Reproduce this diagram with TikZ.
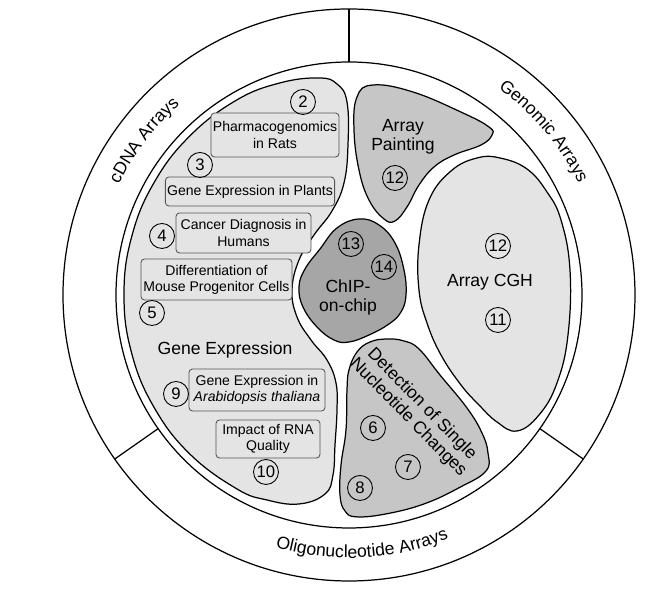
\documentclass[tikz,border=0pt]{standalone}
\usepackage{fontspec}
\setmainfont{Liberation Sans}
\usetikzlibrary{decorations.text}
\definecolor{glight}{HTML}{E4E4E4}
\definecolor{gmid}{HTML}{C6C6C6}
\definecolor{gdark}{HTML}{A6A6A6}
\definecolor{gline}{HTML}{555555}
\newcommand{\ringfont}{\fontsize{10}{12}\selectfont}
\tikzset{
  every picture/.style={line width=0.7pt, x=0.02cm, y=0.02cm},
  blob/.style={draw, fill=#1, line width=0.7pt},
  blob/.default=glight,
  tag/.style={draw=gline, fill=glight, rounded corners=2pt, align=center, inner sep=1pt, font=\fontsize{8}{9.2}\selectfont, line width=0.5pt},
  num/.style={draw, circle, minimum size=0.5cm, inner sep=0pt, font=\fontsize{9.5}{10}\selectfont, line width=0.5pt},
  title/.style={font=\fontsize{10}{10.8}\selectfont, align=center},
  ring/.style={decorate, decoration={text along path, text align=center, text={|\ringfont|#1}}},
}
\newcommand{\numc}[3]{% name, position, number
  \node[num] (#1) at (#2) {#3};}

\begin{document}
\begin{tikzpicture}
  \useasboundingbox (-349,-295) rectangle (305,295);
  % outer ring with the three array types
  \draw (0,0) circle[radius=286];
  \draw (0,0) circle[radius=233];
  \foreach \a in {90,215,325}
    \draw (\a:233) -- (\a:286);
  \path[ring=cDNA Arrays] (175:255) arc[start angle=175, end angle=111, radius=255];
  \path[ring=Genomic Arrays] (72:255) arc[start angle=72, end angle=8, radius=255];
  \path[ring=Oligonucleotide Arrays] (-127:263) arc[start angle=-127, end angle=-47, radius=263];
  % gene expression
  \draw[blob] plot[smooth cycle, tension=0.7] coordinates {
    (240:224) (225:225) (210:225) (195:225) (180:225) (165:225) (150:225) (135:225) (120:225) (108:223)
    (-30,217) (-12,211) (-2,193) (-1,150) (-5,112) (-17,84) (-35,60) (-50,35) (-57,5) (-52,-22)
    (-38,-45) (-22,-65) (-13,-88) (-12,-115) (-14,-150) (-16,-180) (-24,-199) (-50,-209) (-82,-205)};
  % array painting
  \draw[blob=gmid] plot[smooth cycle, tension=0.7] coordinates {
    (8,198) (24,210) (64,203) (114,182) (140,168) (143,160) (132,150) (105,140) (85,128)
    (70,110) (58,88) (46,74) (35,76) (20,95) (10,125) (5,165)};
  % chip-on-chip
  \draw[blob=gdark] plot[smooth cycle, tension=0.7] coordinates {
    (10,76) (30,70) (46,52) (55,25) (57,0) (52,-17) (40,-29) (20,-40) (0,-47) (-15,-45)
    (-32,-32) (-46,-12) (-50,8) (-44,26) (-29,46) (-12,67)};
  % array cgh
  \draw[blob] plot[smooth cycle, tension=0.7] coordinates {
    (151,137) (178,126) (198,103) (212,75) (221,25) (219,-40) (208,-88) (190,-120) (168,-136)
    (148,-127) (130,-110) (112,-90) (92,-60) (78,-28) (70,5) (70,50) (80,95) (102,124) (128,137)};
  % single nucleotide changes
  \draw[blob=gmid] plot[smooth cycle, tension=0.7] coordinates {
    (21,-47) (38,-44) (55,-46) (70,-54) (91,-80) (118,-113) (133,-138) (139,-158) (137,-176)
    (-60:222) (-70:222) (-80:222) (-88:222) (-4,-216) (-9,-200) (-8,-170) (-3,-135) (-2,-95)
    (0,-75) (8,-57)};
  % boxes
  \node[tag, minimum width=2.56cm, minimum height=0.88cm] (pharma) at (-74,160) {Pharmacogenomics\\in Rats};
  \node[tag, minimum width=3.36cm, minimum height=0.58cm] (plants) at (-99,103.5) {Gene Expression in Plants};
  \node[tag, minimum width=2.70cm, minimum height=0.80cm] (cancer) at (-105.5,62) {Cancer Diagnosis in\\Humans};
  \node[tag, minimum width=3.02cm, minimum height=0.82cm] (mouse) at (-132.5,15.5) {Differentiation of\\Mouse Progenitor Cells};
  \node[tag, minimum width=2.72cm, minimum height=0.84cm] (arabid) at (-92,-95) {Gene Expression in\\\textit{Arabidopsis thaliana}};
  \node[tag, minimum width=2.08cm, minimum height=0.76cm] (rna) at (-81,-144) {Impact of RNA\\Quality};
  % numbers
  \numc{n2}{-46,193}{2}
  \numc{n3}{-149,130}{3}
  \numc{n4}{-187,59}{4}
  \numc{n5}{-197,-18}{5}
  \numc{n9}{-173,-99}{9}
  \numc{n10}{-83,-177}{10}
  \numc{n12a}{46,117}{12}
  \numc{n13}{2,51}{13}
  \numc{n14}{35,28}{14}
  \numc{n12b}{149,49}{12}
  \numc{n11}{149,-25}{11}
  \numc{n6}{24,-133}{6}
  \numc{n7}{59,-172}{7}
  \numc{n8}{11,-193}{8}
  % labels
  \node[title] (ge) at (-124,-55) {Gene Expression};
  \node[title] (ap) at (54,158.5) {Array\\Painting};
  \node[title] (chip) at (-1,-2.5) {ChIP-\\on-chip};
  \node[title] (cgh) at (141,13) {Array CGH};
  \node[title, rotate=-45.5] (dsn) at (66,-116) {Detection of Single\\Nucleotide Changes};
\end{tikzpicture}
\end{document}
